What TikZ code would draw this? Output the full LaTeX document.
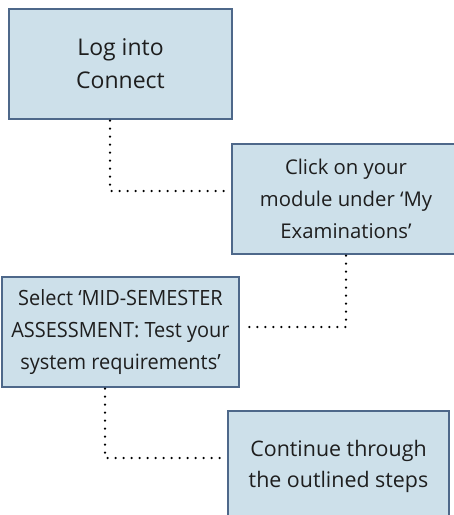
\documentclass[tikz,border=0pt]{standalone}
\usepackage{fontspec}
\setmainfont{Open Sans}
\newfontfamily\condfont[FakeStretch=0.95]{Open Sans}
\usetikzlibrary{calc}
\definecolor{boxfill}{RGB}{205,224,234}
\definecolor{boxline}{RGB}{78,104,138}
\definecolor{txt}{RGB}{30,30,30}
\tikzset{
  stepbox/.style={draw=boxline, line width=1.4pt, fill=boxfill, text=txt, align=center, inner sep=0pt},
  conn/.style={draw=black, line width=2.5pt, line cap=round, dash pattern=on 0pt off 8pt}
}
\begin{document}
\begin{tikzpicture}[x=1pt,y=-1pt]
\useasboundingbox (0,0) rectangle (454,515);
\clip (0,0) rectangle (454,515);
\node[stepbox, minimum width=223pt, minimum height=110pt, font=\fontsize{23}{33}\selectfont] (b1) at (120.5,64) {Log into\\Connect};
\node[stepbox, minimum width=228pt, minimum height=110pt, font=\fontsize{20.3}{32}\selectfont] (b2) at (346,199) {Click on your\\module under ‘My\\Examinations’};
\node[stepbox, minimum width=237pt, minimum height=110pt, font=\condfont\fontsize{21}{31.7}\selectfont] (b3) at (120.5,332) {Select ‘MID-SEMESTER\\ASSESSMENT: Test your\\system requirements’};
\node[stepbox, minimum width=221pt, minimum height=110pt, font=\fontsize{21.4}{31}\selectfont] (b4) at (338.5,466) {Continue through\\the outlined steps};
\draw[conn] ($(b1.south)+(-10.5,1)$) |- ($(b2.west)+(0,-8)$);
\draw[conn] ($(b2.south)+(0,1)$) |- ($(b3.east)+(7,-5)$);
\draw[conn] ($(b3.south)+(-15.5,1)$) |- ($(b4.west)+(0,-8)$);
\end{tikzpicture}
\end{document}
